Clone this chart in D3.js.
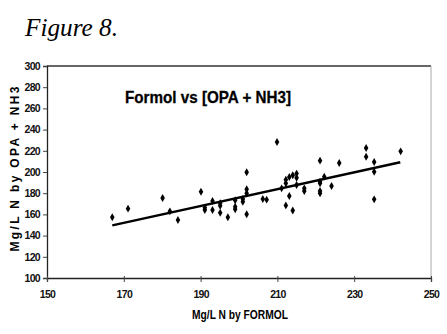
<!DOCTYPE html>
<html><head><meta charset="utf-8">
<script src="https://cdn.jsdelivr.net/npm/d3@7"></script>
<style>body{margin:0;background:#fff}svg{display:block}</style>
</head><body>
<script>
const xTicks = [150, 170, 190, 210, 230, 250];
const yTicks = [100, 120, 140, 160, 180, 200, 220, 240, 260, 280, 300];
const formolX = [167.0,171.1,180.1,182.0,184.1,190.1,191.1,191.1,193.1,193.1,195.1,195.1,195.1,197.1,199.0,199.0,199.0,201.0,201.0,202.0,202.0,202.0,202.0,206.2,207.2,209.9,211.1,212.2,212.2,212.2,213.1,213.1,214.0,214.0,215.0,215.0,215.0,217.0,217.0,221.1,221.1,221.1,221.1,221.1,222.2,224.1,226.1,233.1,233.1,235.2,235.2,235.2,242.1];
const opaY = [157.3,165.4,175.5,162.9,154.7,181.4,166.3,164.2,172.7,164.2,170.5,168.2,161.6,157.3,173.3,167.3,164.8,174.5,172.0,199.7,183.7,179.9,160.1,174.5,173.9,228.3,184.6,192.8,189.3,168.5,195.3,177.4,197.0,163.7,198.5,194.6,187.7,184.6,182.1,210.7,190.8,189.3,182.1,179.9,195.6,186.8,208.5,222.6,214.4,209.4,200.3,174.2,219.5];
const trendX = [167, 242];
const trendY = [149.7, 209.2];

const W = 447, H = 334;
const svg = d3.select("body").append("svg").attr("width", W).attr("height", H);
const x = d3.scaleLinear().domain([150, 250]).range([47, 431]);
const y = d3.scaleLinear().domain([100, 300]).range([278, 66]);
const font = "'Liberation Sans', Arial, sans-serif";

svg.append("text").text("Figure 8.").attr("x", 25).attr("y", 36)
  .attr("font-family", "'Liberation Serif', 'Times New Roman', serif")
  .attr("font-style", "italic").attr("font-size", 25)
  .attr("textLength", 93).attr("lengthAdjust", "spacingAndGlyphs");

// frame top & right
svg.append("line").attr("x1", 47).attr("x2", 431).attr("y1", 66).attr("y2", 66)
  .attr("stroke", "#333").attr("stroke-width", 1.5);
svg.append("line").attr("x1", 431).attr("x2", 431).attr("y1", 66).attr("y2", 278)
  .attr("stroke", "#aaa").attr("stroke-width", 1);

const yAxis = svg.append("g").attr("transform", "translate(47,0)")
  .call(d3.axisLeft(y).tickValues(yTicks).tickSize(4).tickPadding(3).tickFormat(d3.format("d")));
const xAxis = svg.append("g").attr("transform", "translate(0,278)")
  .call(d3.axisBottom(x).tickValues(xTicks).tickSize(4).tickPadding(9).tickFormat(d3.format("d")));
[yAxis, xAxis].forEach(g => {
  g.select(".domain").attr("stroke", "#222").attr("stroke-width", 1.3);
  g.selectAll(".tick line").attr("stroke", "#444");
  g.selectAll("text").attr("font-family", font).attr("font-weight", "bold")
    .attr("font-size", 10.5).attr("fill", "#111").attr("letter-spacing", -0.7);
});
xAxis.selectAll(".tick line").attr("y1", -2);

svg.append("text").text("Formol vs [OPA + NH3]").attr("x", 208).attr("y", 103)
  .attr("text-anchor", "middle").attr("font-family", font).attr("font-weight", "bold")
  .attr("font-size", 16.5).attr("stroke", "#000").attr("stroke-width", 0.3)
  .attr("textLength", 166).attr("lengthAdjust", "spacingAndGlyphs");

svg.append("text").text("Mg/L N by FORMOL").attr("x", 240).attr("y", 319)
  .attr("text-anchor", "middle").attr("font-family", font).attr("font-weight", "bold")
  .attr("font-size", 12.5).attr("textLength", 96).attr("lengthAdjust", "spacingAndGlyphs");

svg.append("text").text("Mg/L N by OPA + NH3")
  .attr("transform", "translate(19,169) rotate(-90)")
  .attr("text-anchor", "middle").attr("font-family", font).attr("font-weight", "bold")
  .attr("font-size", 12).attr("textLength", 165).attr("lengthAdjust", "spacing");

svg.append("path")
  .attr("d", d3.line().x(d => x(d[0])).y(d => y(d[1]))(d3.zip(trendX, trendY)))
  .attr("stroke", "#000").attr("stroke-width", 2.4).attr("fill", "none");

svg.append("g").selectAll("path").data(d3.zip(formolX, opaY)).join("path")
  .attr("transform", d => `translate(${x(d[0])},${y(d[1])})`)
  .attr("d", d3.symbol(d3.symbolDiamond, 18)).attr("fill", "#000");
</script>
</body></html>
